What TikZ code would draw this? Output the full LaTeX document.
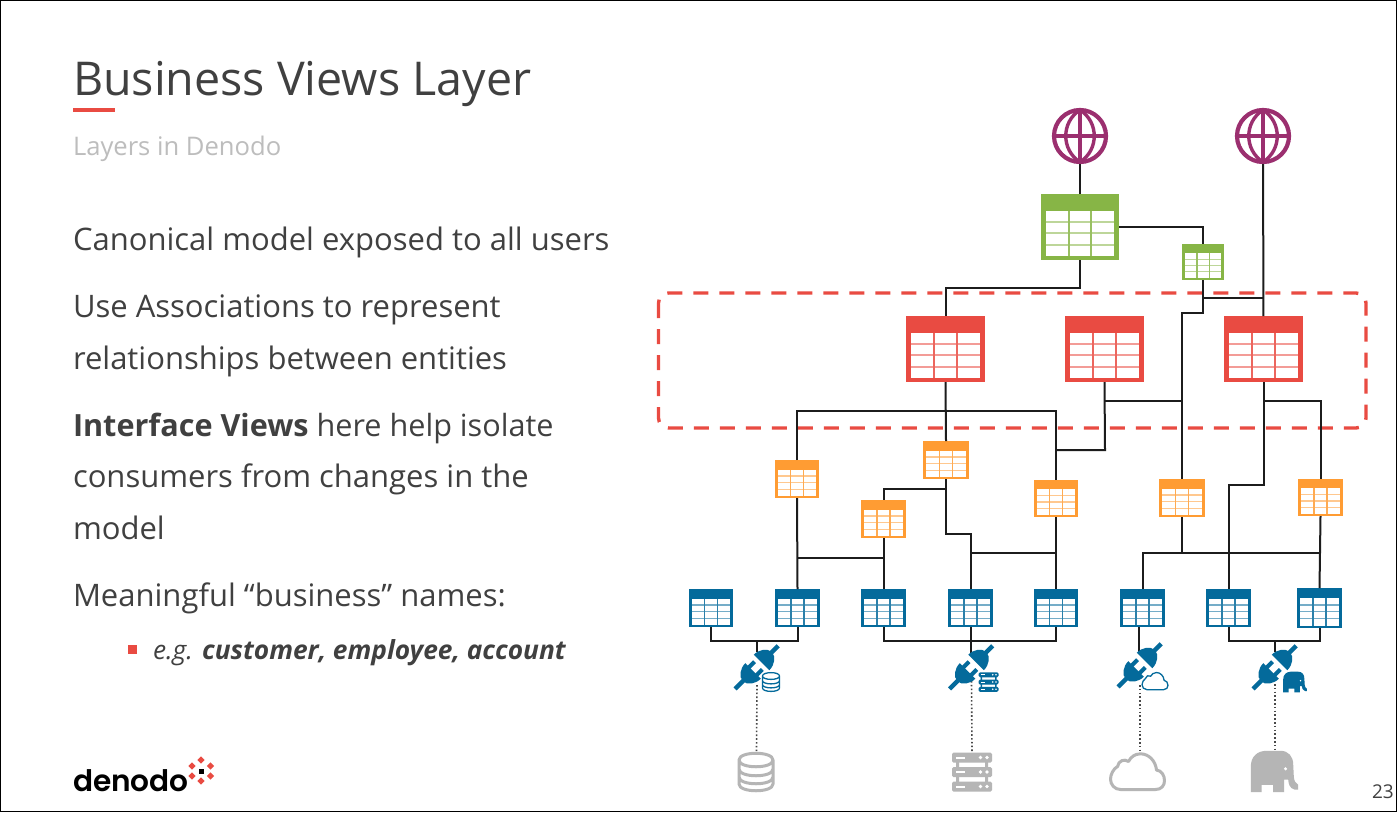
\documentclass[tikz,border=0pt]{standalone}
\usepackage{fontspec}
\setmainfont{Open Sans}
\newfontfamily\logofont{Poppins SemiBold}
\definecolor{txt}{HTML}{404040}
\definecolor{subt}{HTML}{BDBDBD}
\definecolor{redd}{HTML}{E94B42}
\definecolor{gre}{HTML}{87B546}
\definecolor{ora}{HTML}{FF9C33}
\definecolor{blu}{HTML}{046A9B}
\definecolor{pur}{HTML}{9B2F6F}
\definecolor{gry}{HTML}{B5B5B5}
\definecolor{lin}{HTML}{1C1C1C}
\tikzset{
  tblbox/.style={rectangle,inner sep=0pt,outer sep=0pt,draw=none},
  conn/.style={draw=lin,line width=2pt,line join=miter},
  dotl/.style={draw=lin!80,line width=1.6pt,dash pattern=on 1.6pt off 2.2pt},
  txtl/.style={anchor=base west,inner sep=0pt,outer sep=0pt,text=txt,font=\fontsize{31}{36}\selectfont},
  globe/.style={circle,draw=pur,line width=4.2pt,minimum size=52pt,inner sep=0pt,outer sep=2.1pt},
}
\newcommand\tbl[6]{%
  \pgfmathsetmacro\tw{#4-#2}\pgfmathsetmacro\th{#5-#3}%
  \pgfmathsetmacro\cx{(#2+#4)/2}\pgfmathsetmacro\cy{(#3+#5)/2}%
  \node[tblbox,fill=#6,minimum width=\tw pt,minimum height=\th pt] (#1) at (\cx,\cy) {};
  \pgfmathsetmacro\xa{#2+0.06*\tw}\pgfmathsetmacro\xb{#4-0.06*\tw}%
  \pgfmathsetmacro\ya{#3+0.25*\th}\pgfmathsetmacro\yb{#5-0.06*\th}%
  \pgfmathsetmacro\xc{\xa+(\xb-\xa)/3}\pgfmathsetmacro\xd{\xa+2*(\xb-\xa)/3}%
  \pgfmathsetmacro\yc{\ya+(\yb-\ya)/4}\pgfmathsetmacro\yd{\ya+(\yb-\ya)/2}\pgfmathsetmacro\ye{\ya+3*(\yb-\ya)/4}%
  \pgfmathsetmacro\lw{max(0.026*\tw,1.3)}%
  \fill[white] (\xa,\ya) rectangle (\xb,\yb);
  \draw[#6!55,line width=\lw pt] (\xa,\yc)--(\xb,\yc) (\xa,\yd)--(\xb,\yd) (\xa,\ye)--(\xb,\ye);
  \draw[#6!85,line width=\lw pt] (\xc,\ya)--(\xc,\yb) (\xd,\ya)--(\xd,\yb);
}
\newcommand\globeic[3]{%
  \node[globe] (#1) at (#2,#3) {};
  \draw[pur,line width=3.4pt] (#2,#3-26)--(#2,#3+26) (#2-26,#3)--(#2+26,#3);
  \draw[pur,line width=3.4pt] (#2,#3-26) .. controls (#2-19,#3-14) and (#2-19,#3+14) .. (#2,#3+26) .. controls (#2+19,#3+14) and (#2+19,#3-14) .. (#2,#3-26);
}
\newcommand\plugic[2]{%
  \begin{scope}[shift={(#1,#2)},rotate=45]
    \fill[blu] (6.5,-11) .. controls (14,-11) and (21,-6) .. (21,0) .. controls (21,6) and (14,11) .. (6.5,11) -- cycle;
    \fill[blu] (19,-2.2) rectangle (30,2.2);
    \fill[blu] (-5.5,-11) .. controls (-13,-11) and (-20,-6) .. (-20,0) .. controls (-20,6) and (-13,11) .. (-5.5,11) -- cycle;
    \fill[blu] (-19,-2.2) rectangle (-31,2.2);
    \fill[blu] (-7,-7.5) rectangle (2,-3.5);
    \fill[blu] (-7,3.5) rectangle (2,7.5);
  \end{scope}
}
\newcommand\dbic[5]{%
  \begin{scope}[shift={(#1,#2)},scale=#3]
    \draw[#4,line width=#5pt,line join=round]
      (-17,-12) .. controls (-17,-21) and (17,-21) .. (17,-12) .. controls (17,-3) and (-17,-3) .. (-17,-12)
      -- (-17,12) .. controls (-17,21) and (17,21) .. (17,12) -- (17,-12)
      (-17,-3) .. controls (-17,6) and (17,6) .. (17,-3)
      (-17,5) .. controls (-17,14) and (17,14) .. (17,5);
  \end{scope}
}
\newcommand\srvic[5]{%
  \begin{scope}[shift={(#1,#2)},scale=#3]
    \fill[#4] (-16,-12) rectangle (-13,12) (13,-12) rectangle (16,12);
    \foreach \yy in {-14.5,0,14.5}{
      \fill[#4,rounded corners=1.5pt] (-20,\yy-5) rectangle (20,\yy+5);
      \draw[white,line width=#5pt] (-16,\yy)--(-7,\yy);
      \fill[white] (8.5,\yy) circle (1.8) (15,\yy) circle (1.8);
    }
  \end{scope}
}
\newcommand\cloudic[5]{%
  \begin{scope}[shift={(#1,#2)},scale=#3]
    \draw[#4,line width=#5pt,line join=round]
     (-17,18) -- (18,18) .. controls (24,18) and (27,14) .. (27,9) .. controls (27,4) and (24,-1) .. (19,-1.5) .. controls (18,-11) and (11,-17.7) .. (3,-17.7) .. controls (-3,-17.7) and (-7,-14) .. (-9,-10) .. controls (-13,-13) and (-19,-11) .. (-20,-5) .. controls (-24,-3) and (-27,3) .. (-27,7.7) .. controls (-27,13) and (-23,18) .. (-17,18) -- cycle;
  \end{scope}
}
\newcommand\eleic[4]{%
  \begin{scope}[shift={(#1,#2)},scale=#3]
    \fill[#4] (-23.7,20.7) -- (-23.7,-5) .. controls (-23.7,-15) and (-17,-20.7) .. (-8,-20.7) -- (6,-20.7) .. controls (14,-20.7) and (18.7,-15) .. (18.7,-7) -- (19.3,5) .. controls (19.5,9) and (21,12) .. (23.7,13.3) -- (23.7,18) -- (20,18) .. controls (15,17) and (14,12) .. (13.7,8) -- (9.7,8) -- (9.7,20.7) -- (-1.3,20.7) -- (-1.3,13.3) -- (-13,13.3) -- (-13,20.7) -- cycle;
    \fill[white] (11,-2.7) circle (1.7);
  \end{scope}
}
\begin{document}
\begin{tikzpicture}[x=1pt,y=-1pt]
\useasboundingbox (0,0) rectangle (1397,812);
\fill[white] (0,0) rectangle (1397,812);
\draw[black,line width=1.4pt] (0.7,0.7) rectangle (1396.3,811.3);
% text
\node[txtl,font=\fontsize{46.6}{50}\selectfont] (title) at (73,95) {Business Views Layer};
\fill[redd] (73,108) rectangle (115,112);
\node[txtl,text=subt,font=\fontsize{25.6}{30}\selectfont] (sub) at (73,155) {Layers in Denodo};
\node[txtl] (t1) at (73,250) {Canonical model exposed to all users};
\node[txtl] (t2) at (73,317) {Use Associations to represent};
\node[txtl] (t3) at (73,369) {relationships between entities};
\node[txtl,font=\fontsize{30.6}{36}\selectfont] (t4) at (73,436) {\textbf{Interface Views} here help isolate};
\node[txtl] (t5) at (73,487) {consumers from changes in the};
\node[txtl] (t6) at (73,539) {model};
\node[txtl] (t7) at (73,606) {Meaningful “business” names:};
\fill[redd] (128,645) rectangle (137,654);
\node[txtl,font=\fontsize{26.3}{30}\selectfont] (t8) at (153,659) {\textit{e.g. \textbf{customer, employee, account}}};
\node[txtl,text=black,font=\logofont\fontsize{29.6}{36}\selectfont] (logo) at (73,791) {denodo};
\foreach \dx/\dy in {201/760,192/766,210.5/766,192/776,210.5/776,201/781}{
  \fill[redd,rotate around={45:(\dx,\dy)}] (\dx-2.6,\dy-2.6) rectangle (\dx+2.6,\dy+2.6);
}
\fill[black] (198.5,768.5) rectangle (203.5,773.5);
\node[txtl,font=\fontsize{19}{20}\selectfont] (pg) at (1372,798) {23};
% dashed frame
\draw[redd,line width=3.4pt,dash pattern=on 15pt off 11pt,rounded corners=10pt] (658.5,293) rectangle (1366,428);
% nodes
\globeic{g1}{1080}{136}
\globeic{g2}{1263}{136}
\tbl{gb}{1041}{194}{1119}{260}{gre}
\tbl{gs}{1182}{244}{1224}{280}{gre}
\tbl{r1}{906}{316}{985}{382}{redd}
\tbl{r2}{1065}{316}{1144}{382}{redd}
\tbl{r3}{1224}{316}{1303}{382}{redd}
\tbl{o1}{775}{460}{819}{498}{ora}
\tbl{o2}{923}{441}{969}{479}{ora}
\tbl{o3}{861}{500}{906}{538}{ora}
\tbl{o4}{1034}{480}{1078}{517}{ora}
\tbl{o5}{1159}{479}{1205}{517}{ora}
\tbl{o6}{1298}{479}{1343}{516}{ora}
\tbl{b1}{689}{589}{733}{627}{blu}
\tbl{b2}{775}{589}{820}{627}{blu}
\tbl{b3}{861}{589}{906}{627}{blu}
\tbl{b4}{948}{589}{993}{627}{blu}
\tbl{b5}{1034}{589}{1078}{627}{blu}
\tbl{b6}{1120}{589}{1165}{627}{blu}
\tbl{b7}{1206}{589}{1251}{627}{blu}
\tbl{b8}{1297}{588}{1342}{628}{blu}
% icons
\coordinate (p1) at (757,667);
\coordinate (p2) at (971.5,667);
\coordinate (p3) at (1140,665);
\coordinate (p4) at (1275,667);
\coordinate (s1) at (756.5,751);
\coordinate (s2) at (972,751);
\coordinate (s3) at (1140,751);
\coordinate (s4) at (1275,750);
% connectors
\draw[conn] (g1) -- (gb);
\draw[conn] (g2) -- (r3);
\draw[conn] (gb.east) -| (gs.north);
\coordinate (j1) at (945.5,288);
\draw[conn] (gb.south) |- (j1) -- (r1.north);
\coordinate (j2) at (1203,298);
\coordinate (j3) at (1203,313);
\draw[conn] (gs.south) -- (j3) -| (o5.north);
\draw[conn] (j2) -- (j2 -| r3.north);
\coordinate (j4) at (945.5,411);
\draw[conn] (r1.south) -- (o2.north);
\draw[conn] (o1.north) |- (j4) -| (o4.north);
\coordinate (j5) at (1105,450);
\draw[conn] (r2.south) -- (j5) -- (j5 -| o4.north);
\coordinate (j6) at (1105,401);
\draw[conn] (j6) -- (j6 -| o5.north);
\coordinate (j7) at (1263.5,485);
\coordinate (j8) at (1263.5,401);
\draw[conn] (r3.south) -- (j7) -| (b7.north);
\draw[conn] (j8) -| (o6.north);
\draw[conn] (o1.south) -- (b2.north);
\draw[conn] (o3.south) -- (b3.north);
\coordinate (j9) at (797,558);
\draw[conn] (j9) -- (j9 -| o3.south);
\coordinate (j10) at (946,534);
\coordinate (j11) at (946,489);
\draw[conn] (o2.south) -- (j10) -| (b4.north);
\draw[conn] (j11) -| (o3.north);
\coordinate (j12) at (970.5,553);
\draw[conn] (j12) -- (j12 -| o4.south);
\draw[conn] (o4.south) -- (b5.north);
\coordinate (j13) at (1182,553);
\draw[conn] (o5.south) -- (j13);
\draw[conn] (b6.north) |- (j13) -- (j13 -| o6.south);
\draw[conn] (o6.south) -- (b8.north);
\coordinate (k1) at (757,641);
\draw[conn] (b1.south) |- (k1) -| (b2.south);
\draw[conn] (k1) -- ++(0,11);
\coordinate (k2) at (971,641);
\draw[conn] (b3.south) |- (k2) -| (b5.south);
\draw[conn] (b4.south) -- ++(0,26);
\coordinate (k3) at (1139,653);
\draw[conn] (b6.south -| k3) -- (k3);
\coordinate (k4) at (1275,641);
\draw[conn] (b7.south) |- (k4) -| (b8.south);
\draw[conn] (k4) -- ++(0,11);
\draw[dotl] (p1)++(0,18) -- (s1);
\draw[dotl] (p2)++(0,14) -- (s2);
\draw[dotl] (p3)++(0,20) -- (s3);
\draw[dotl] (p4)++(0,17) -- (s4);
% icons on top
\plugic{757}{667}\plugic{971.5}{667}\plugic{1140}{665}\plugic{1275}{667}
\dbic{771}{682}{0.5}{blu}{1.3}
\srvic{988.5}{682}{0.5}{blu}{0.9}
\cloudic{1155}{681}{0.48}{blu}{1.3}
\eleic{1295}{682}{0.5}{blu}
\dbic{756}{772}{1}{gry}{3}
\srvic{972}{772}{1}{gry}{2}
\cloudic{1137.5}{771.5}{1}{gry}{3}
\eleic{1274.5}{771.5}{1}{gry}
\end{tikzpicture}
\end{document}
